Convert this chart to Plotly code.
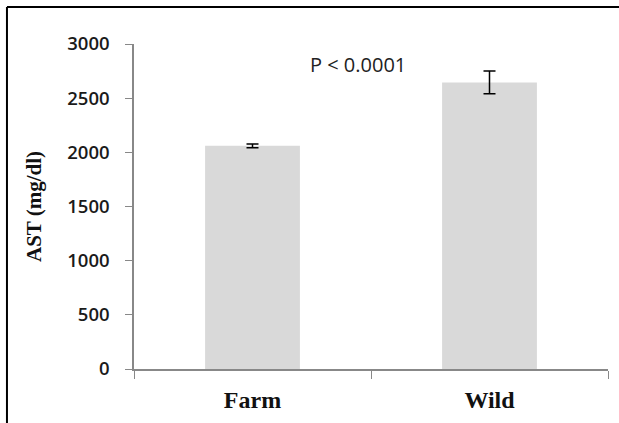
import plotly.graph_objects as go

categories = ["Farm", "Wild"]
ast_means = [2060, 2645]
ast_errors = [18, 105]
y_ticks = [0, 500, 1000, 1500, 2000, 2500, 3000]
p_label = "P < 0.0001"

fig = go.Figure()
fig.add_trace(go.Bar(
    x=categories, y=ast_means,
    marker=dict(color="#d9d9d9", line=dict(width=0)),
    error_y=dict(type="data", array=ast_errors, visible=True,
                 color="#000000", thickness=1.5, width=6),
    width=0.4,
))

fig.update_layout(
    width=619, height=423,
    margin=dict(l=134, r=11, t=44, b=54, autoexpand=False),
    paper_bgcolor="white", plot_bgcolor="white",
    showlegend=False,
    xaxis=dict(
        type="category", range=[-0.5, 1.5],
        tickvals=categories, ticktext=["<b>%s</b>" % c for c in categories],
        showline=True, linecolor="#888888", linewidth=1.5,
        ticks="outside", tickson="boundaries", ticklen=8,
        tickcolor="#888888", tickwidth=1,
        showgrid=False, zeroline=False,
        tickfont=dict(family="Liberation Serif", size=24, color="#111111"),
        ticklabelstandoff=8,
    ),
    yaxis=dict(
        range=[0, 3000], tickvals=y_ticks,
        showline=True, linecolor="#888888", linewidth=1.5,
        ticks="outside", ticklen=7, tickcolor="#888888", tickwidth=1,
        showgrid=False, zeroline=False,
        tickfont=dict(family="Open Sans", size=18.5, color="#1a1a1a", weight=600),
        ticklabelstandoff=12,
        title=dict(text="<b>AST (mg/dl)</b>", standoff=20,
                   font=dict(family="Liberation Serif", size=21, color="#111111")),
    ),
    annotations=[dict(
        x=0.445, y=2815, xref="x", yref="y", text=p_label, showarrow=False,
        font=dict(family="Open Sans", size=20, color="#222222"),
    )],
    shapes=[
        dict(type="line", xref="paper", yref="paper",
             x0=-0.268, x1=1.03, y0=1.1138, y1=1.1138,
             line=dict(color="black", width=2)),
        dict(type="line", xref="paper", yref="paper",
             x0=-0.268, x1=-0.268, y0=1.1138, y1=-0.2,
             line=dict(color="black", width=2)),
    ],
)

fig.write_html("out.html")
